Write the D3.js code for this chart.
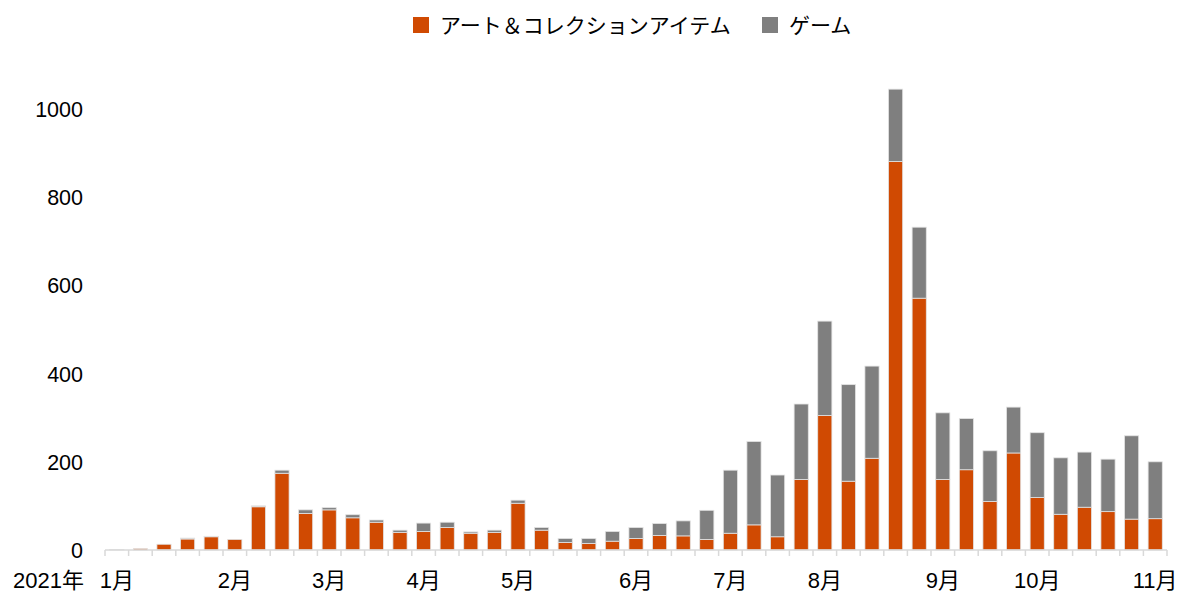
<!DOCTYPE html>
<html>
<head>
<meta charset="utf-8">
<script src="https://cdn.jsdelivr.net/npm/d3@7"></script>
<style>
    body { margin: 0; background: #fff; }
    text { font-family: "Liberation Sans", Arial, "Noto Sans CJK JP", sans-serif; fill: #000; }
</style>
</head>
<body>
<svg id="vis-container"></svg>
<script>
const WIDTH = 1177
const HEIGHT = 592
const CONTAINER = d3.select("#vis-container")

// weekly values, 2021
const art = [1, 3, 13, 25, 30, 24, 98, 174, 83, 91, 73, 63, 40, 42, 51, 38, 40, 106, 45, 17, 15, 20, 26,
    33, 32, 24, 38, 57, 30, 160, 305, 156, 208, 881, 571, 160, 182, 110, 220, 119, 81, 97, 87, 70, 71]
const game = [0, 0, 0, 2, 1, 0, 2, 7, 8, 5, 7, 5, 5, 19, 12, 3, 5, 7, 6, 9, 11, 22, 25,
    27, 34, 66, 143, 189, 140, 171, 214, 219, 209, 164, 161, 151, 116, 115, 104, 147, 128, 125, 119, 189, 129]
// month label -> index of the week it sits under
const monthLabels = [
    [0, "1月"], [5, "2月"], [9, "3月"], [13, "4月"], [17, "5月"], [22, "6月"],
    [26, "7月"], [30, "8月"], [35, "9月"], [39, "10月"], [44, "11月"]
]
const yearLabel = "2021年"
const yTicks = [0, 200, 400, 600, 800, 1000]
const seriesNames = ["アート＆コレクションアイテム", "ゲーム"]
const colors = ["#D04A02", "#7F7F7F"]

CONTAINER.attr('width', WIDTH).attr('height', HEIGHT)

const left = 105, right = 1167, bottom = 550
const x = d3.scaleBand()
    .domain(d3.range(art.length))
    .range([left, right])
    .paddingInner(0.4)
    .paddingOuter(0.2)
const y = d3.scaleLinear().domain([0, 1000]).range([bottom, 109])

const rows = art.map((a, i) => ({ i: i, art: a, game: game[i] }))
const stacked = d3.stack().keys(["art", "game"])(rows)

// bars
CONTAINER.append('g').attr('id', 'bars')
    .selectAll('g')
    .data(stacked)
    .join('g')
    .attr('fill', (d, k) => colors[k])
    .selectAll('rect')
    .data(d => d)
    .join('rect')
    .attr('x', d => x(d.data.i))
    .attr('width', x.bandwidth())
    .attr('y', d => y(d[1]))
    .attr('height', d => Math.max(0, y(d[0]) - y(d[1])))
    .attr('stroke', '#e3e3e3')
    .attr('stroke-width', 0.8)

// x axis line and ticks at week boundaries
const axis = CONTAINER.append('g').attr('id', 'x-axis')
axis.append('line')
    .attr('x1', left).attr('x2', right)
    .attr('y1', bottom).attr('y2', bottom)
    .attr('stroke', '#d9d9d9').attr('stroke-width', 1.5)
axis.selectAll('line.tick')
    .data(d3.range(art.length + 1))
    .join('line')
    .attr('class', 'tick')
    .attr('x1', i => left + i * x.step())
    .attr('x2', i => left + i * x.step())
    .attr('y1', bottom).attr('y2', bottom + 6)
    .attr('stroke', '#d9d9d9').attr('stroke-width', 1.5)

axis.selectAll('text.month')
    .data(monthLabels)
    .join('text')
    .attr('class', 'month')
    .attr('x', d => x(d[0]) + x.bandwidth() / 2)
    .attr('y', 588)
    .attr('text-anchor', 'middle')
    .style('font-size', '22px')
    .text(d => d[1])
axis.append('text')
    .attr('x', 84).attr('y', 588)
    .attr('text-anchor', 'end')
    .style('font-size', '22px')
    .text(yearLabel)

// y labels
CONTAINER.append('g').attr('id', 'y-axis')
    .selectAll('text')
    .data(yTicks)
    .join('text')
    .attr('x', 83)
    .attr('y', d => y(d) + 8)
    .attr('text-anchor', 'end')
    .style('font-size', '21.5px')
    .text(d => d)

// legend
const legendX = [413, 762]
const legend = CONTAINER.append('g').attr('id', 'legend')
    .selectAll('g')
    .data(seriesNames)
    .join('g')
    .attr('transform', (d, k) => `translate(${legendX[k]},17)`)
legend.append('rect')
    .attr('width', 16).attr('height', 16)
    .attr('fill', (d, k) => colors[k])
legend.append('text')
    .attr('x', 27).attr('y', 16)
    .style('font-size', '21px')
    .text(d => d)
</script>
</body>
</html>
